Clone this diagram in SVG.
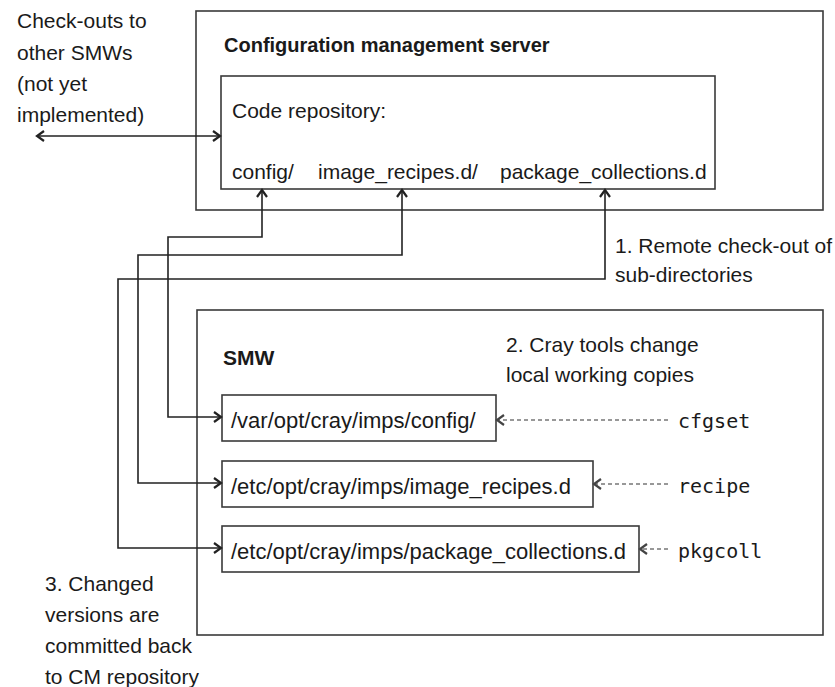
<svg xmlns="http://www.w3.org/2000/svg" width="835" height="687" viewBox="0 0 835 687">
<style>
.box{fill:none;stroke:#3a3a3a;stroke-width:1.6}
.t{font-family:"Liberation Sans",Arial,sans-serif;font-size:21px;fill:#1a1a1a}
.p{font-size:22px}
.b{font-weight:bold}
.m{font-family:"DejaVu Sans Mono","Liberation Mono",monospace;font-size:20px;fill:#1a1a1a}
.c{fill:none;stroke:#222;stroke-width:1.6}
.d{fill:none;stroke:#777;stroke-width:1.6;stroke-dasharray:4 3}
</style>
<defs>
<marker id="a" markerUnits="userSpaceOnUse" markerWidth="12" markerHeight="14" refX="9" refY="6" orient="auto-start-reverse" viewBox="0 0 12 12">
<path d="M2,1 L9,6 L2,11" fill="none" stroke="#222" stroke-width="2.2"/>
</marker>
<marker id="ad" markerUnits="userSpaceOnUse" markerWidth="12" markerHeight="14" refX="9" refY="6" orient="auto-start-reverse" viewBox="0 0 12 12">
<path d="M2,1 L9,6 L2,11" fill="none" stroke="#444" stroke-width="2.2"/>
</marker>
</defs>
<g id="note-checkouts">
<text class="t" x="17" y="28">Check-outs to</text>
<text class="t" x="17" y="60">other SMWs</text>
<text class="t" x="17" y="91">(not yet</text>
<text class="t" x="17" y="122">implemented)</text>
</g>
<g id="cm-server">
<rect class="box" x="196" y="11" width="627" height="199"/>
<text class="t b" x="224" y="52" style="font-size:20px">Configuration management server</text>
</g>
<g id="code-repo">
<rect class="box" x="221" y="76" width="494" height="113"/>
<text class="t" x="232" y="118">Code repository:</text>
<text class="t" x="232" y="179">config/</text>
<text class="t" x="318" y="179">image_recipes.d/</text>
<text class="t" x="500" y="179">package_collections.d</text>
</g>
<g id="note-1">
<text class="t" x="615" y="253">1. Remote check-out of</text>
<text class="t" x="615" y="282">sub-directories</text>
</g>
<g id="smw">
<rect class="box" x="197" y="310" width="626" height="325"/>
<text class="t b" x="223" y="365">SMW</text>
</g>
<g id="note-2">
<text class="t" x="506" y="352">2. Cray tools change</text>
<text class="t" x="506" y="382">local working copies</text>
</g>
<g id="var-config">
<rect class="box" x="222" y="395" width="274" height="46"/>
<text class="t p" x="231" y="428">/var/opt/cray/imps/config/</text>
</g>
<g id="etc-recipes">
<rect class="box" x="222" y="461" width="371" height="46"/>
<text class="t p" x="231" y="494">/etc/opt/cray/imps/image_recipes.d</text>
</g>
<g id="etc-pkgcoll">
<rect class="box" x="222" y="526" width="417" height="46"/>
<text class="t p" x="231" y="559">/etc/opt/cray/imps/package_collections.d</text>
</g>
<g id="tool-cfgset"><text class="m" x="678" y="428">cfgset</text></g>
<g id="tool-recipe"><text class="m" x="678" y="493">recipe</text></g>
<g id="tool-pkgcoll"><text class="m" x="678" y="558">pkgcoll</text></g>
<g id="note-3">
<text class="t" x="45" y="591">3. Changed</text>
<text class="t" x="45" y="622">versions are</text>
<text class="t" x="45" y="653">committed back</text>
<text class="t" x="45" y="684">to CM repository</text>
</g>
<g id="connectors">
<path class="c" d="M37,136 H220" marker-start="url(#a)" marker-end="url(#a)"/>
<path class="c" d="M262,190 V237 H168 V417 H221" marker-start="url(#a)" marker-end="url(#a)"/>
<path class="c" d="M402,190 V255 H138 V483 H221" marker-start="url(#a)" marker-end="url(#a)"/>
<path class="c" d="M605,190 V279 H118 V548 H221" marker-start="url(#a)" marker-end="url(#a)"/>
<path class="d" d="M668,420 H497" marker-end="url(#ad)"/>
<path class="d" d="M668,484 H594" marker-end="url(#ad)"/>
<path class="d" d="M668,549 H640" marker-end="url(#ad)"/>
</g>
</svg>
